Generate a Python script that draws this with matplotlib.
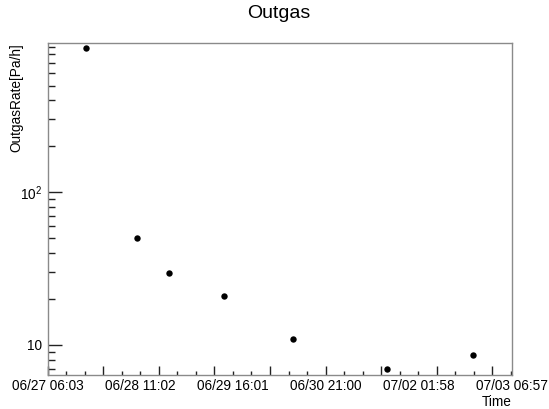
import matplotlib
matplotlib.use("Agg")
import matplotlib.pyplot as plt
import matplotlib.ticker as mticker
import numpy as np
from datetime import datetime

plt.rcParams['font.family'] = ['Liberation Sans', 'DejaVu Sans']

# Measurement times (month/day hour:minute) and outgassing rates [Pa/h]
times = ["06/27 18:00", "06/28 10:00", "06/28 20:00", "06/29 13:05",
         "06/30 10:45", "07/01 16:05", "07/02 18:50"]
rates = [877, 50.4, 29.8, 21.0, 11.0, 6.93, 8.56]

# Time axis range and its labels (equal divisions)
t_start = "06/27 06:03"
t_end = "07/03 06:57"
time_labels = ["06/27 06:03", "06/28 11:02", "06/29 16:01",
               "06/30 21:00", "07/02 01:58", "07/03 06:57"]

y_min, y_max = 6.36, 946


def hours_since(stamp, ref):
    fmt = "%Y/%m/%d %H:%M"
    a = datetime.strptime("2021/" + stamp, fmt)
    b = datetime.strptime("2021/" + ref, fmt)
    return (a - b).total_seconds() / 3600.0


x = np.array([hours_since(t, t_start) for t in times])
x_end = hours_since(t_end, t_start)

W, H = 549, 409
fig = plt.figure(figsize=(W / 100, H / 100), dpi=100)
left, right, top, bottom = 47.5, 512, 43.3, 375
ax = fig.add_axes([left / W, 1 - bottom / H, (right - left) / W, (bottom - top) / H])

ax.plot(x, rates, 'o', color='black', markersize=4.6, markeredgewidth=0)

ax.set_yscale('log')
ax.set_ylim(y_min, y_max)
ax.set_xlim(0, x_end)

for s in ax.spines.values():
    s.set_color('#8a8a8a')
    s.set_linewidth(1.0)

# y axis: decades labelled, minor ticks at 2..9
ax.yaxis.set_major_locator(mticker.FixedLocator([10, 100]))
ax.yaxis.set_major_formatter(mticker.FixedFormatter(["10", r"$\mathregular{10^{2}}$"]))
ax.yaxis.set_minor_locator(mticker.LogLocator(base=10, subs=np.arange(2, 10)))
ax.yaxis.set_minor_formatter(mticker.NullFormatter())
ax.tick_params(axis='y', which='major', direction='in', length=10, width=1,
               color='#222222', labelsize=9.8, pad=4)
ax.tick_params(axis='y', which='minor', direction='in', length=5, width=1,
               color='#222222')
ax.tick_params(axis='y', right=False, which='both')

# x axis tick marks (long every ~17.35 h, two short ones in between)
step = 17.35
major_x = np.arange(0, x_end + 0.01, step)
minor_x = np.arange(0, x_end + 0.01, step / 3)
ax.xaxis.set_major_locator(mticker.FixedLocator(major_x))
ax.xaxis.set_minor_locator(mticker.FixedLocator(minor_x))
ax.xaxis.set_major_formatter(mticker.NullFormatter())
ax.tick_params(axis='x', which='major', direction='in', length=6.5, width=1,
               color='#222222')
ax.tick_params(axis='x', which='minor', direction='in', length=3, width=1,
               color='#222222')
ax.tick_params(axis='x', top=False, which='both')

# time labels at equal divisions of the axis
sec = ax.secondary_xaxis('bottom')
sec.set_xticks(np.linspace(0, x_end, len(time_labels)))
sec.set_xticklabels(time_labels)
sec.tick_params(length=0, labelsize=9.8, pad=3)
sec.spines['bottom'].set_visible(False)

fig.text(right / W, 1 - 401.5 / H, "Time", ha='right', va='center', fontsize=9.8)
fig.text(16 / W, 1 - top / H, "OutgasRate[Pa/h]", rotation=90, ha='center',
         va='top', fontsize=9.8)
fig.text(278.5 / W, 1 - 14 / H, "Outgas", ha='center', va='center', fontsize=14)

fig.savefig("out.png", dpi=100)
